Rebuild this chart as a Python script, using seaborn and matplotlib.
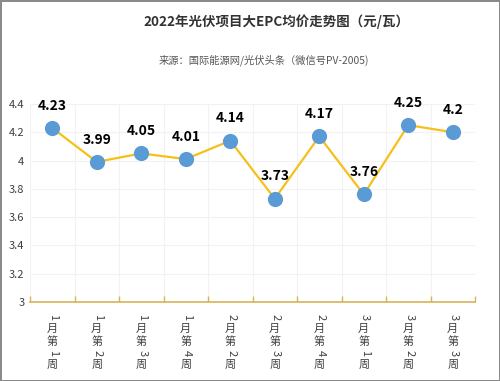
import matplotlib
matplotlib.use("Agg")
import matplotlib.pyplot as plt
import seaborn as sns
import pandas as pd

weeks = ["1月第1周", "1月第2周", "1月第3周", "1月第4周", "2月第2周",
         "2月第3周", "2月第4周", "3月第1周", "3月第2周", "3月第3周"]
prices = [4.23, 3.99, 4.05, 4.01, 4.14, 3.73, 4.17, 3.76, 4.25, 4.2]
value_labels = ["4.23", "3.99", "4.05", "4.01", "4.14", "3.73", "4.17", "3.76", "4.25", "4.2"]
yticks = [3, 3.2, 3.4, 3.6, 3.8, 4, 4.2, 4.4]
ytick_labels = ["3", "3.2", "3.4", "3.6", "3.8", "4", "4.2", "4.4"]

sns.set_theme(style="white")
plt.rcParams['font.family'] = ['Noto Sans CJK SC', 'DejaVu Sans']

df = pd.DataFrame({"week": weeks, "price": prices, "idx": range(len(weeks))})

fig = plt.figure(figsize=(5, 3.81), dpi=100)
fig.patch.set_edgecolor('#8a8a8a')
fig.patch.set_linewidth(2)
ax = fig.add_axes([0.06, 0.2073, 0.89, 0.52])

sns.lineplot(data=df, x="idx", y="price", ax=ax, color="#F5C01A", linewidth=1.6, zorder=3)
sns.scatterplot(data=df, x="idx", y="price", ax=ax, color="#5B9BD5", s=120,
                edgecolor="#5B9BD5", linewidth=0, zorder=4)

ax.set_xlim(-0.5, len(weeks) - 0.5)
ax.set_ylim(3, 4.4)
ax.set_yticks(yticks)
ax.set_yticklabels(ytick_labels, fontsize=8, color="#404040")
ax.set_xticks([i - 0.5 for i in range(len(weeks) + 1)])
ax.set_xticklabels([])
ax.tick_params(axis='x', direction='in', length=4, color="#D8B45A", width=1, bottom=True)
ax.tick_params(axis='y', length=0, pad=4)
ax.grid(True, color="#f2f2f2", linewidth=0.8)
ax.set_xlabel("")
ax.set_ylabel("")
for s in ["top", "right", "left"]:
    ax.spines[s].set_visible(False)
ax.spines["bottom"].set_color("#D8B45A")
ax.spines["bottom"].set_linewidth(1.2)

for i, (v, lab) in enumerate(zip(prices, value_labels)):
    ax.annotate(lab, xy=(i, v), xytext=(0, 11), textcoords='offset points',
                ha='center', va='bottom', fontsize=10, fontweight='bold', color='black')

for i, w in enumerate(weeks):
    for j, ch in enumerate(w):
        if ch.isdigit():
            ax.annotate(ch, xy=(i, 0), xycoords=('data', 'axes fraction'),
                        xytext=(1.5, -11 - j * 8.6), textcoords='offset points',
                        ha='center', va='center_baseline', fontsize=8, color='#404040',
                        rotation=-90, rotation_mode='anchor', annotation_clip=False)
        else:
            ax.annotate(ch, xy=(i, 0), xycoords=('data', 'axes fraction'),
                        xytext=(0, -11 - j * 8.6), textcoords='offset points',
                        ha='center', va='center', fontsize=8, color='#404040',
                        annotation_clip=False)

fig.text(0.553, 0.942, "2022年光伏项目大EPC均价走势图（元/瓦）", ha='center', va='center',
         fontsize=9.7, fontweight='bold', color='#333333')
fig.text(0.527, 0.843, "来源：国际能源网/光伏头条（微信号PV-2005)", ha='center', va='center',
         fontsize=7.4, color='#555555')

fig.savefig("out.png", dpi=100)
